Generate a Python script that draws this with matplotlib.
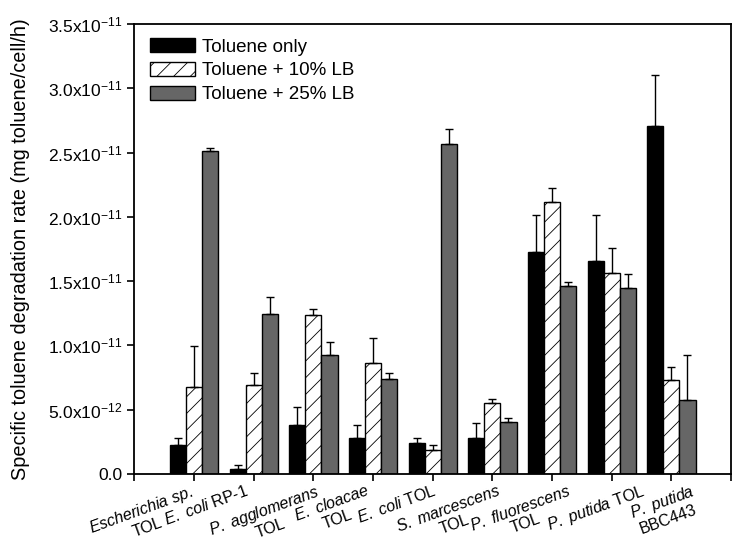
import matplotlib
matplotlib.use("Agg")
import matplotlib.pyplot as plt
import matplotlib.transforms as mtransforms
import numpy as np

plt.rcParams['font.family'] = ['Liberation Sans', 'DejaVu Sans']
plt.rcParams['mathtext.fontset'] = 'custom'
plt.rcParams['mathtext.rm'] = 'Liberation Sans'
plt.rcParams['mathtext.it'] = 'Liberation Sans:italic'
plt.rcParams['mathtext.bf'] = 'Liberation Sans:bold'
plt.rcParams['hatch.linewidth'] = 0.6
plt.rcParams['hatch.color'] = 'black'

# ---- data ----
strains = [
    r"$\mathit{Escherichia\ sp.}$" + "\nTOL",
    r"$\mathit{E.\ coli}$ RP-1",
    r"$\mathit{P.\ agglomerans}$" + "\nTOL",
    r"$\mathit{E.\ cloacae}$" + "\nTOL",
    r"$\mathit{E.\ coli}$ TOL",
    r"$\mathit{S.\ marcescens}$" + "\nTOL",
    r"$\mathit{P.\ fluorescens}$" + "\nTOL",
    r"$\mathit{P.\ putida}$ TOL",
    r"$\mathit{P.\ putida}$" + "\nBBC443",
]
series_names = ["Toluene only", "Toluene + 10% LB", "Toluene + 25% LB"]

toluene_only = [2.22e-12, 0.40e-12, 3.83e-12, 2.84e-12, 2.40e-12, 2.81e-12, 17.28e-12, 16.55e-12, 27.03e-12]
toluene_only_err = [0.59e-12, 0.29e-12, 1.42e-12, 0.96e-12, 0.41e-12, 1.17e-12, 2.85e-12, 3.58e-12, 3.97e-12]
lb10 = [6.75e-12, 6.96e-12, 12.38e-12, 8.65e-12, 1.88e-12, 5.54e-12, 21.14e-12, 15.65e-12, 7.35e-12]
lb10_err = [3.17e-12, 0.93e-12, 0.42e-12, 1.91e-12, 0.39e-12, 0.31e-12, 1.09e-12, 1.94e-12, 0.96e-12]
lb25 = [25.16e-12, 12.46e-12, 9.29e-12, 7.37e-12, 25.65e-12, 4.03e-12, 14.64e-12, 14.45e-12, 5.77e-12]
lb25_err = [0.21e-12, 1.29e-12, 0.99e-12, 0.47e-12, 1.20e-12, 0.34e-12, 0.33e-12, 1.12e-12, 3.52e-12]

ytick_values = [0.0, 5.0e-12, 1.0e-11, 1.5e-11, 2.0e-11, 2.5e-11, 3.0e-11, 3.5e-11]
ytick_labels = ["0.0", r"5.0x10$^{-12}$", r"1.0x10$^{-11}$", r"1.5x10$^{-11}$",
                r"2.0x10$^{-11}$", r"2.5x10$^{-11}$", r"3.0x10$^{-11}$", r"3.5x10$^{-11}$"]

# ---- styling ----
label_dx_px = [-5, -9, 2, -7, 0, 5, 15, 29, 19]

fig = plt.figure(figsize=(7.45, 5.55), dpi=100)
ax = fig.add_axes([0.1805, 0.1459, 0.8007, 0.8109])

x = np.arange(1, len(strains) + 1)
w = 0.27
ekw = dict(ecolor='black', elinewidth=1.0, capsize=3.0, capthick=1.0)
values = [toluene_only, lb10, lb25]
errs = [toluene_only_err, lb10_err, lb25_err]
faces = ['black', 'white', '#666666']
hatches = [None, '//', None]
for k in range(3):
    ax.bar(x + (k - 1) * w, values[k], w, color=faces[k], edgecolor='black',
           linewidth=1.0, hatch=hatches[k], label=series_names[k], zorder=2)
    ax.errorbar(x + (k - 1) * w, values[k],
                yerr=[np.zeros(len(errs[k])), errs[k]], fmt='none', zorder=3, **ekw)

ax.set_xlim(0, 10)
ax.set_ylim(0, 3.5e-11)
ax.set_yticks(ytick_values)
ax.set_yticklabels(ytick_labels, fontsize=12.5)
ax.tick_params(axis='both', direction='out', length=5, width=1.2, top=False, right=False)
ax.tick_params(axis='x', pad=1)
ax.set_xticks(np.arange(0, 11))
ax.set_xticklabels([""] + strains + [""], fontsize=11.5, rotation=20,
                   ha='right', va='top', rotation_mode='anchor',
                   multialignment='center', linespacing=1.1)
for lab, dx in zip(ax.get_xticklabels()[1:10], label_dx_px):
    lab.set_transform(lab.get_transform() +
                      mtransforms.ScaledTranslation(dx / 100.0, 0, fig.dpi_scale_trans))
for s in ax.spines.values():
    s.set_linewidth(1.3)

ax.set_ylabel("Specific toluene degradation rate (mg toluene/cell/h)", fontsize=14.3, labelpad=13)

leg = ax.legend(loc='upper left', bbox_to_anchor=(0.026, 0.969), frameon=False,
                fontsize=13.5, handlelength=2.4, handleheight=0.8, handletextpad=0.4,
                labelspacing=0.33, borderpad=0, borderaxespad=0)

fig.savefig("out.png", dpi=100)
